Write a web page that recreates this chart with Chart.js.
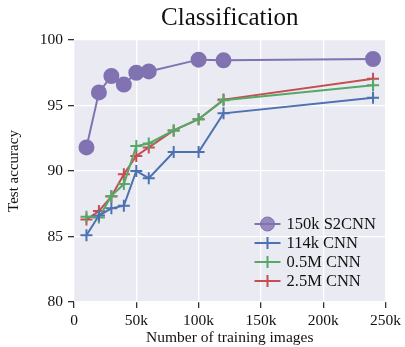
<!DOCTYPE html>
<html lang="en">
<head>
<meta charset="UTF-8">
<title>Classification</title>
<script src="https://cdn.jsdelivr.net/npm/chart.js"></script>
<style>
  html, body { margin: 0; padding: 0; background: #fff; }
  #wrap { width: 405px; height: 347px; }
</style>
</head>
<body>
<div id="wrap"><canvas id="chart" width="405" height="347"></canvas></div>
<script>
// data
const seriesNames = ['150k S2CNN', '114k CNN', '0.5M CNN', '2.5M CNN'];

const s2cnnX = [10000, 20000, 30000, 40000, 50000, 60000, 100000, 120000, 240000];
const s2cnnY = [91.8, 96.0, 97.25, 96.6, 97.5, 97.6, 98.5, 98.45, 98.55];

const cnnX = [10000, 20000, 30000, 40000, 50000, 60000, 80000, 100000, 120000, 240000];
const cnn114kY = [85.1, 86.6, 87.15, 87.35, 90.0, 89.45, 91.45, 91.45, 94.4, 95.6];
const cnn05mY = [86.5, 86.45, 88.1, 89.0, 91.9, 92.1, 93.1, 93.95, 95.4, 96.55];
const cnn25mY = [86.3, 86.95, 88.05, 89.75, 91.15, 91.8, 93.1, 93.95, 95.45, 97.05];

const xTicks = [0, 50000, 100000, 150000, 200000, 250000];
const yTicks = [80, 85, 90, 95, 100];

const colors = ['#8172B2', '#4C72B0', '#55A868', '#C44E52'];
const serif = "'Liberation Serif', 'DejaVu Serif', serif";

function pts(xs, ys) {
  return xs.map((x, i) => ({ x: x, y: ys[i] }));
}

function crossSet(label, ys, color) {
  return {
    label: label,
    data: pts(cnnX, ys),
    borderColor: color,
    backgroundColor: color,
    borderWidth: 2,
    pointStyle: 'cross',
    pointRadius: 6,
    pointBorderWidth: 2,
    pointHoverRadius: 6,
    tension: 0
  };
}

const bgPlugin = {
  id: 'bg',
  beforeDraw(chart) {
    const { ctx, chartArea: a } = chart;
    ctx.save();
    ctx.fillStyle = '#EAEAF2';
    ctx.fillRect(a.left, a.top, a.right - a.left, a.bottom - a.top);
    ctx.restore();
  }
};

const titlePlugin = {
  id: 'plotTitle',
  afterDraw(chart) {
    const { ctx, chartArea: a } = chart;
    ctx.save();
    ctx.fillStyle = '#111';
    ctx.font = '25px ' + serif;
    ctx.textAlign = 'center';
    ctx.textBaseline = 'middle';
    ctx.fillText('Classification', (a.left + a.right) / 2, 18);
    ctx.restore();
  }
};

const legendPlugin = {
  id: 'innerLegend',
  afterDraw(chart) {
    const { ctx, chartArea: a } = chart;
    const x0 = a.right - 131, x1 = a.right - 105, tx = a.right - 99;
    let y = a.bottom - 78;
    ctx.save();
    ctx.font = '16.5px ' + serif;
    ctx.textBaseline = 'middle';
    chart.data.datasets.forEach((ds, i) => {
      ctx.strokeStyle = ds.borderColor;
      ctx.lineWidth = 2;
      ctx.beginPath();
      ctx.moveTo(x0, y);
      ctx.lineTo(x1, y);
      ctx.stroke();
      const mx = (x0 + x1) / 2;
      if (ds.pointStyle === 'circle') {
        ctx.fillStyle = 'rgba(129,114,178,0.8)';
        ctx.beginPath();
        ctx.arc(mx, y, 7, 0, Math.PI * 2);
        ctx.fill();
        ctx.strokeStyle = ds.borderColor;
        ctx.lineWidth = 1;
        ctx.stroke();
      } else {
        ctx.beginPath();
        ctx.moveTo(mx, y - 6);
        ctx.lineTo(mx, y + 6);
        ctx.stroke();
      }
      ctx.fillStyle = '#111';
      ctx.fillText(ds.label, tx, y + 1);
      y += 19;
    });
    ctx.restore();
  }
};

new Chart(document.getElementById('chart'), {
  type: 'line',
  data: {
    datasets: [
      {
        label: seriesNames[0],
        data: pts(s2cnnX, s2cnnY),
        borderColor: colors[0],
        backgroundColor: colors[0],
        borderWidth: 2,
        pointStyle: 'circle',
        pointRadius: 7,
        pointHoverRadius: 7,
        tension: 0
      },
      crossSet(seriesNames[1], cnn114kY, colors[1]),
      crossSet(seriesNames[2], cnn05mY, colors[2]),
      crossSet(seriesNames[3], cnn25mY, colors[3])
    ]
  },
  options: {
    responsive: false,
    animation: false,
    layout: { padding: { top: 40, right: 17, left: 0, bottom: 0 } },
    plugins: {
      legend: { display: false },
      tooltip: { enabled: false },
      title: { display: false }
    },
    scales: {
      x: {
        type: 'linear',
        min: 0,
        max: 250000,
        afterBuildTicks(scale) { scale.ticks = xTicks.map(v => ({ value: v })); },
        afterFit(scale) { scale.height = 45; },
        grid: { color: '#ffffff', lineWidth: 1.3, tickColor: '#333', tickLength: 6 },
        border: { display: false },
        ticks: {
          color: '#111',
          font: { family: serif, size: 15.5 },
          padding: 4,
          maxRotation: 0,
          callback: v => v === 0 ? '0' : (v / 1000) + 'k'
        },
        title: {
          display: true,
          text: 'Number of training images',
          color: '#111',
          font: { family: serif, size: 15.5 },
          padding: { top: 0, bottom: 0 }
        }
      },
      y: {
        min: 80,
        max: 100,
        afterBuildTicks(scale) { scale.ticks = yTicks.map(v => ({ value: v })); },
        afterFit(scale) { scale.width = 74; },
        grid: { color: '#ffffff', lineWidth: 1.3, tickColor: '#333', tickLength: 6 },
        border: { display: false },
        ticks: {
          color: '#111',
          font: { family: serif, size: 15.5 },
          padding: 5
        },
        title: {
          display: true,
          text: 'Test accuracy',
          color: '#111',
          font: { family: serif, size: 15 },
          padding: { top: 5, bottom: 0 }
        }
      }
    }
  },
  plugins: [bgPlugin, titlePlugin, legendPlugin]
});
</script>
</body>
</html>
